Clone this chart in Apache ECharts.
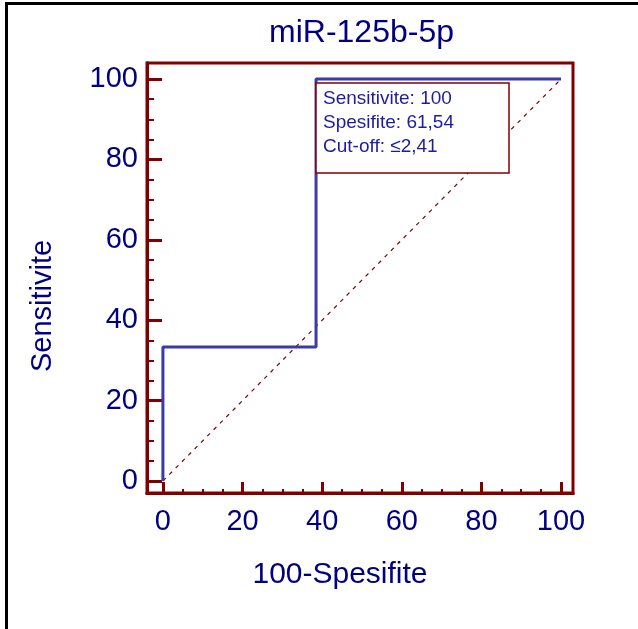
<!DOCTYPE html>
<html>
<head>
<meta charset="utf-8">
<script src="https://cdn.jsdelivr.net/npm/echarts@6/dist/echarts.min.js"></script>
<style>
html,body{margin:0;padding:0;background:#fff;}
#chart{position:absolute;left:0;top:0;width:638px;height:629px;}
#frame{position:absolute;left:5px;top:2px;width:640px;height:640px;border-left:3px solid #000;border-top:3px solid #000;pointer-events:none;}
</style>
</head>
<body>
<div id="chart"></div>
<div id="frame"></div>
<script>
// ROC curve: x = 100 - Specificity, y = Sensitivity
const rocX = [0, 0, 38.46, 38.46, 100];
const rocY = [0, 33.33, 33.33, 100, 100];
const refX = [0, 100];
const refY = [0, 100];
const majorTicks = [0, 20, 40, 60, 80, 100];
const minorTicks = [5, 10, 15, 25, 30, 35, 45, 50, 55, 65, 70, 75, 85, 90, 95];
const infoLines = ['Sensitivite: 100', 'Spesifite: 61,54', 'Cut-off: \u22642,41'];
const chartTitle = 'miR-125b-5p';
const xName = '100-Spesifite';
const yName = 'Sensitivite';

const maroon = '#800000';
const navy = '#000080';
const font = 'Liberation Sans, Arial, sans-serif';

const chart = echarts.init(document.getElementById('chart'));
const baseAxis = (extra) => Object.assign({
  type: 'value',
  splitLine: { show: false },
  axisLine: { show: true, onZero: false, lineStyle: { color: maroon, width: 3 } }
}, extra);

chart.setOption({
  animation: false,
  backgroundColor: '#fff',
  title: [
    { text: chartTitle, left: 269, top: 17, padding: 0,
      textStyle: { fontFamily: font, fontSize: 32, fontWeight: 'normal', color: navy } },
    { text: infoLines.join('\n'), left: 316, top: 83, padding: [4, 55, 14, 7],
      borderColor: maroon, borderWidth: 1.5, backgroundColor: '#fff',
      textStyle: { fontFamily: font, fontSize: 19, lineHeight: 24, fontWeight: 'normal', color: '#1c1ca0' } }
  ],
  grid: { left: 147, right: 65, top: 63, bottom: 136, show: true, borderColor: maroon, borderWidth: 3, backgroundColor: 'transparent' },
  xAxis: [
    baseAxis({ min: -4, max: 103, position: 'bottom',
      name: xName, nameLocation: 'middle', nameGap: 67,
      nameTextStyle: { fontFamily: font, fontSize: 30, color: navy, padding: [0, 40, 0, 0] },
      axisTick: { show: true, inside: true, length: 11, customValues: majorTicks, lineStyle: { color: maroon, width: 3 } },
      axisLabel: { show: true, margin: 14, customValues: majorTicks, fontFamily: font, fontSize: 29, color: navy } }),
    baseAxis({ min: -4, max: 103, position: 'bottom',
      axisTick: { show: true, inside: true, length: 4, customValues: minorTicks, lineStyle: { color: maroon, width: 2 } },
      axisLabel: { show: false } })
  ],
  yAxis: [
    baseAxis({ min: -3, max: 104, position: 'left',
      name: yName, nameLocation: 'middle', nameGap: 90,
      nameTextStyle: { fontFamily: font, fontSize: 29, color: navy, padding: [0, 56, 0, 0] },
      axisTick: { show: true, inside: true, length: 15, customValues: majorTicks, lineStyle: { color: maroon, width: 3 } },
      axisLabel: { show: true, margin: 9, customValues: majorTicks, fontFamily: font, fontSize: 29, color: navy } }),
    baseAxis({ min: -3, max: 104, position: 'left',
      axisTick: { show: true, inside: true, length: 7, customValues: minorTicks, lineStyle: { color: maroon, width: 2 } },
      axisLabel: { show: false } })
  ],
  series: [
    { type: 'line', xAxisIndex: 0, yAxisIndex: 0, symbol: 'none', silent: true,
      data: refX.map((x, i) => [x, refY[i]]),
      lineStyle: { color: maroon, width: 1.2, type: [4, 5] }, z: 2 },
    { type: 'line', xAxisIndex: 0, yAxisIndex: 0, symbol: 'none', silent: true,
      data: rocX.map((x, i) => [x, rocY[i]]),
      lineStyle: { color: '#3a3aa8', width: 3 }, z: 3 }
  ]
});
</script>
</body>
</html>
